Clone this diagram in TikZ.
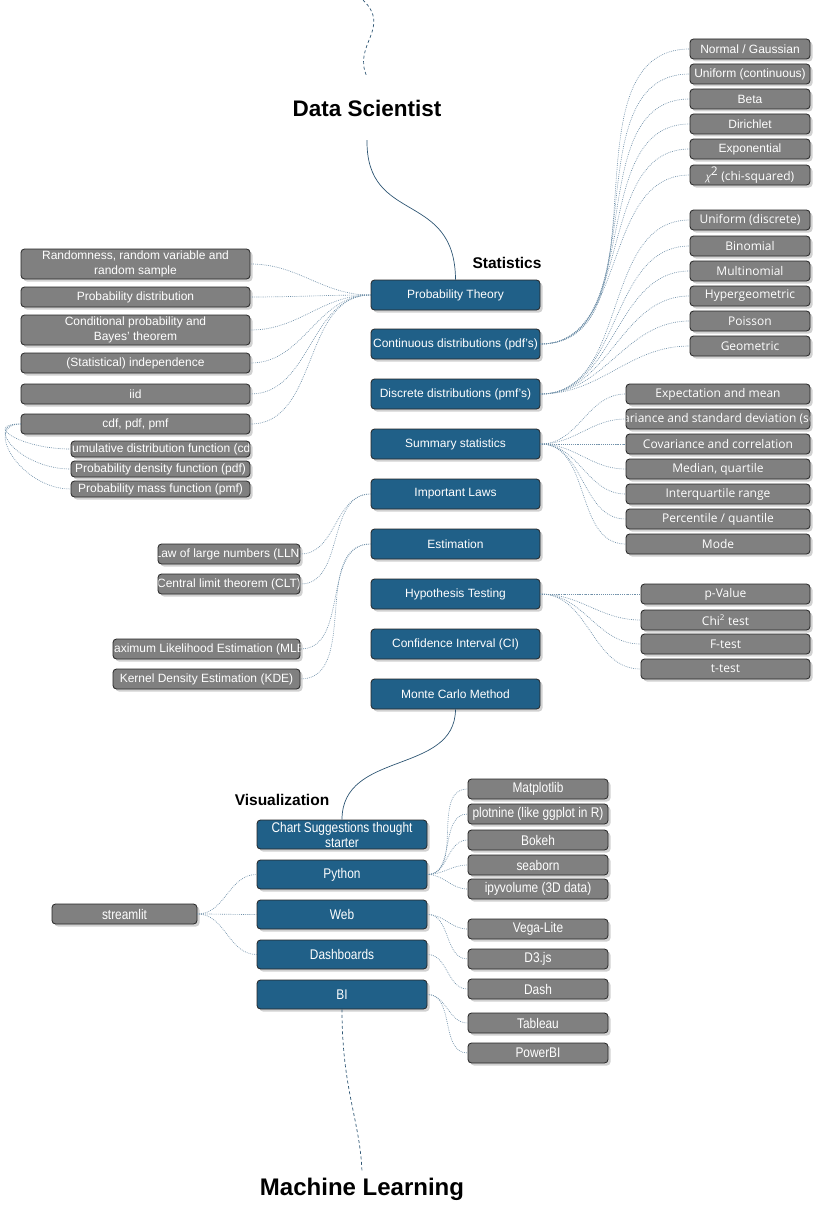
\documentclass[tikz,border=0pt]{standalone}
\usepackage{fontspec}
\setmainfont{Liberation Sans}
\newfontfamily\osfont{Open Sans}
\newfontfamily\narrowfont[FakeStretch=0.85]{Liberation Sans}
\usetikzlibrary{shadows}
\definecolor{bluebox}{RGB}{32,96,136}
\definecolor{graybox}{RGB}{128,128,128}
\definecolor{connc}{RGB}{110,143,168}
\definecolor{mainline}{RGB}{45,85,115}
\newcommand{\fa}{\fontsize{12}{14}\selectfont}
\newcommand{\fo}{\osfont\fontsize{12}{14}\selectfont}
\newcommand{\fn}{\narrowfont\fontsize{14}{15}\selectfont}
\begin{document}
\begin{tikzpicture}[x=1pt,y=-1pt,
  box/.style={rounded corners=3.5pt, draw=black!85, line width=0.8pt, text=white, inner sep=0pt, align=center,
    drop shadow={shadow xshift=2.5pt, shadow yshift=-2.5pt, fill=black!30, opacity=0.6}},
  bluebx/.style={box, fill=bluebox, minimum width=169pt, minimum height=30pt, font=\fa},
  vbx/.style={box, fill=bluebox, minimum width=170pt, minimum height=29pt, font=\fn},
  gbx/.style={box, fill=graybox, minimum height=20pt, font=\fa},
  obx/.style={box, fill=graybox, minimum height=20pt, font=\fo},
  nbx/.style={box, fill=graybox, minimum height=20pt, font=\fn},
  conn/.style={draw=connc, line width=0.65pt, dash pattern=on 0.8pt off 1.1pt},
  mline/.style={draw=mainline, line width=0.7pt},
  dline/.style={draw=mainline, line width=0.7pt, dash pattern=on 3pt off 2.5pt},
  ttl/.style={font=\bfseries\fontsize{15.5}{17}\selectfont, inner sep=0pt},
]
\useasboundingbox (0,0) rectangle (813,1220);

% titles
\node[font=\bfseries\fontsize{22.5}{25}\selectfont, minimum height=63pt, inner sep=0pt] (ds) at (367,108.5) {Data Scientist};
\node[font=\bfseries\fontsize{24}{27}\selectfont, minimum height=34pt, inner sep=0pt] (ml) at (362,1189) {Machine Learning};
\node[ttl] (stat) at (507,263) {Statistics};
\node[ttl] (vis) at (282,800) {Visualization};
\coordinate (topstart) at (363,0);

% statistics main nodes
\node[bluebx] (pt)  at (455.5,295) {Probability Theory};
\node[bluebx] (cd)  at (455.5,344) {Continuous distributions (pdf's)};
\node[bluebx] (dd)  at (455.5,394) {Discrete distributions (pmf's)};
\node[bluebx] (ss)  at (455.5,444) {Summary statistics};
\node[bluebx] (il)  at (455.5,494) {Important Laws};
\node[bluebx] (est) at (455.5,544) {Estimation};
\node[bluebx] (ht)  at (455.5,594) {Hypothesis Testing};
\node[bluebx] (ci)  at (455.5,644) {Confidence Interval (CI)};
\node[bluebx] (mc)  at (455.5,694) {Monte Carlo Method};

% probability theory children
\node[gbx, minimum width=229pt, minimum height=30pt, font=\fontsize{12}{15}\selectfont] (r1) at (135.5,264) {Randomness, random variable and\\random sample};
\node[gbx, minimum width=229pt] (r2) at (135.5,297) {Probability distribution};
\node[gbx, minimum width=229pt, minimum height=30pt, font=\fontsize{12}{15}\selectfont] (r3) at (135.5,330) {Conditional probability and\\Bayes' theorem};
\node[gbx, minimum width=229pt] (r4) at (135.5,363) {(Statistical) independence};
\node[gbx, minimum width=229pt] (r5) at (135.5,394) {iid};
\node[gbx, minimum width=229pt] (r6) at (135.5,424) {cdf, pdf, pmf};
\node[gbx, minimum width=179pt, minimum height=16pt, path picture={\node[text=white,font=\fa] at (path picture bounding box.center) {Cumulative distribution function (cdf)};}] (c1) at (160.5,449) {};
\node[gbx, minimum width=179pt, minimum height=16pt] (c2) at (160.5,469) {Probability density function (pdf)};
\node[gbx, minimum width=179pt, minimum height=16pt] (c3) at (160.5,489) {Probability mass function (pmf)};

% continuous children
\node[gbx, minimum width=120pt] (n1) at (750,49) {Normal / Gaussian};
\node[gbx, minimum width=120pt] (n2) at (750,74) {Uniform (continuous)};
\node[gbx, minimum width=120pt] (n3) at (750,99) {Beta};
\node[gbx, minimum width=120pt] (n4) at (750,124) {Dirichlet};
\node[gbx, minimum width=120pt] (n5) at (750,149) {Exponential};
\node[obx, minimum width=120pt] (n6) at (750,175) {{\fontsize{10}{12}\selectfont\itshape χ}\textsuperscript{\fontsize{12}{12}\selectfont 2} (chi-squared)};

% discrete children
\node[obx, minimum width=120pt] (d1) at (750,220) {Uniform (discrete)};
\node[obx, minimum width=120pt] (d2) at (750,246) {Binomial};
\node[obx, minimum width=120pt] (d3) at (750,271) {Multinomial};
\node[obx, minimum width=120pt] (d4) at (750,296) {Hypergeometric};
\node[obx, minimum width=120pt] (d5) at (750,321) {Poisson};
\node[obx, minimum width=120pt] (d6) at (750,346) {Geometric};

% summary children
\node[obx, minimum width=184pt] (s1) at (718,394) {Expectation and mean};
\node[obx, minimum width=184pt, path picture={\node[text=white,font=\fo] at (path picture bounding box.center) {Variance and standard deviation (sd)};}] (s2) at (718,419) {};
\node[obx, minimum width=184pt] (s3) at (718,444) {Covariance and correlation};
\node[obx, minimum width=184pt] (s4) at (718,469) {Median, quartile};
\node[obx, minimum width=184pt] (s5) at (718,494) {Interquartile range};
\node[obx, minimum width=184pt] (s6) at (718,519) {Percentile / quantile};
\node[obx, minimum width=184pt] (s7) at (718,544) {Mode};

% hypothesis children
\node[obx, minimum width=169pt] (h1) at (725.5,594) {p-Value};
\node[obx, minimum width=169pt] (h2) at (725.5,620) {Chi\textsuperscript{2} test};
\node[obx, minimum width=169pt] (h3) at (725.5,644) {F-test};
\node[obx, minimum width=169pt] (h4) at (725.5,669) {t-test};

% laws & estimation children
\node[gbx, minimum width=142pt, path picture={\node[text=white,font=\fa] at (path picture bounding box.center) {Law of large numbers (LLN)};}] (l1) at (229,554) {};
\node[gbx, minimum width=142pt, path picture={\node[text=white,font=\fa] at (path picture bounding box.center) {Central limit theorem (CLT)};}] (l2) at (229,584) {};
\node[gbx, minimum width=187pt, path picture={\node[text=white,font=\fa] at (path picture bounding box.center) {Maximum Likelihood Estimation (MLE)};}] (e1) at (206.5,649) {};
\node[gbx, minimum width=187pt] (e2) at (206.5,679) {Kernel Density Estimation (KDE)};

% visualization
\node[vbx] (cs) at (342,834.5) {Chart Suggestions thought\\starter};
\node[vbx] (py)   at (342,874.5) {Python};
\node[vbx] (web)  at (342,914.5) {Web};
\node[vbx] (dash) at (342,954.5) {Dashboards};
\node[vbx] (bi)   at (342,994.5) {BI};

\node[nbx, minimum width=140pt] (m1) at (538,789) {Matplotlib};
\node[nbx, minimum width=140pt, path picture={\node[text=white,font=\fn] at (path picture bounding box.center) {plotnine (like ggplot in R)};}] (m2) at (538,814) {};
\node[nbx, minimum width=140pt] (m3) at (538,840) {Bokeh};
\node[nbx, minimum width=140pt] (m4) at (538,865) {seaborn};
\node[nbx, minimum width=140pt] (m5) at (538,889) {ipyvolume (3D data)};
\node[nbx, minimum width=140pt] (w1) at (538,929) {Vega-Lite};
\node[nbx, minimum width=140pt] (w2) at (538,959) {D3.js};
\node[nbx, minimum width=140pt] (db1) at (538,989) {Dash};
\node[nbx, minimum width=140pt] (b1) at (538,1023) {Tableau};
\node[nbx, minimum width=140pt] (b2) at (538,1053) {PowerBI};
\node[nbx, minimum width=145pt] (st) at (124.5,914) {streamlit};

% main lines
\draw[dline] (topstart) .. controls (392,28) and (352,45) .. (ds.north);
\draw[mline] (ds.south) .. controls (366,225) and (455,190) .. (pt.north);
\draw[mline] (mc.south) .. controls (455,775) and (342,750) .. (cs.north);
\draw[dline] (bi.south) .. controls (342,1090) and (360,1120) .. (ml.north);

% connectors
\foreach \c in {r1,r2,r3,r4,r5,r6} \draw[conn] (pt.west) to[out=180,in=0] (\c.east);
\foreach \c in {c1,c2,c3} \draw[conn] (r6.west) .. controls +(-38,0) and +(-50,0) .. (\c.west);
\foreach \c in {n1,n2,n3,n4,n5,n6} \draw[conn] (cd.east) to[out=0,in=180] (\c.west);
\foreach \c in {d1,d2,d3,d4,d5,d6} \draw[conn] (dd.east) to[out=0,in=180] (\c.west);
\foreach \c in {s1,s2,s3,s4,s5,s6,s7} \draw[conn] (ss.east) to[out=0,in=180] (\c.west);
\foreach \c in {h1,h2,h3,h4} \draw[conn] (ht.east) to[out=0,in=180] (\c.west);
\foreach \c in {l1,l2} \draw[conn] (il.west) to[out=180,in=0] (\c.east);
\foreach \c in {e1,e2} \draw[conn] (est.west) to[out=180,in=0] (\c.east);
\foreach \c in {m1,m2,m3,m4,m5} \draw[conn] (py.east) to[out=0,in=180] (\c.west);
\foreach \c in {w1,w2} \draw[conn] (web.east) to[out=0,in=180] (\c.west);
\draw[conn] (dash.east) to[out=0,in=180] (db1.west);
\foreach \c in {b1,b2} \draw[conn] (bi.east) to[out=0,in=180] (\c.west);
\foreach \c in {py,web,dash} \draw[conn] (st.east) to[out=0,in=180] (\c.west);
\end{tikzpicture}
\end{document}
